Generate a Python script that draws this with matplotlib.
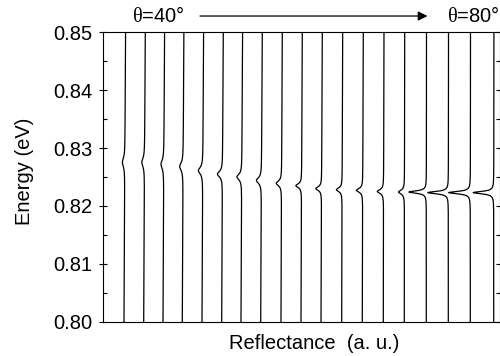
import numpy as np
import matplotlib
matplotlib.use("Agg")
from matplotlib import pyplot as plt

plt.rcParams['font.family'] = ['Liberation Sans', 'DejaVu Sans']
plt.rcParams['mathtext.fontset'] = 'custom'
plt.rcParams['mathtext.rm'] = 'Liberation Serif'

# horizontal offset of each spectrum (a. u.), low angle -> high angle
offsets = [1.083, 2.076, 3.048, 4.020, 5.013, 6.005, 6.977, 7.970, 8.992, 10.000,
           11.008, 12.050, 13.088, 14.146, 15.204, 16.312, 17.421, 18.529, 19.708]
# energy of the reflectance dip (eV)
dip_energy = [0.8275, 0.8275, 0.8272, 0.8268, 0.8261, 0.8255, 0.8250, 0.8244, 0.8239, 0.8235,
              0.8230, 0.8228, 0.8227, 0.8225, 0.8224, 0.8224, 0.8223, 0.8223, 0.8223]
# depth of the dip (a. u.)
dip_depth = [0.125, 0.14, 0.145, 0.175, 0.225, 0.255, 0.245, 0.255, 0.27, 0.29,
             0.29, 0.29, 0.317, 0.317, 0.30, 0.877, 1.038, 1.093, 1.038]
# half width of the dip (eV)
dip_width = [0.0009, 0.0009, 0.0009, 0.0008, 0.0007, 0.0006, 0.0006, 0.0006, 0.0005, 0.0004,
             0.0004, 0.0004, 0.0004, 0.0004, 0.0004, 0.00025, 0.00025, 0.00025, 0.00025]
# rise of the background from 0.80 to 0.85 eV (a. u.)
tilt = [0.08, 0.08, 0.08, 0.08, 0.08, 0.08, 0.08, 0.08, 0.065, 0.065,
        0.065, 0.05, 0.05, 0.035, 0.02, 0.01, 0.01, 0.01, 0.01]

E = np.linspace(0.80, 0.85, 8001)

fig = plt.figure(figsize=(5.0, 3.56), dpi=100)
ax = fig.add_axes([0.205, 0.0963, 0.794, 0.813])

for x0, e0, d, g, t in zip(offsets, dip_energy, dip_depth, dip_width, tilt):
    lorentz = g ** 2 / ((E - e0) ** 2 + g ** 2)
    R = x0 + t * (E - 0.80) / 0.05 - d * lorentz
    ax.plot(R, E, color='black', lw=0.9)

ax.set_xlim(0, 20)
ax.set_ylim(0.80, 0.85)
ax.set_yticks(np.arange(0.80, 0.851, 0.01))
ax.set_yticks(np.arange(0.805, 0.85, 0.01), minor=True)
ax.set_yticklabels(['%.2f' % v for v in np.arange(0.80, 0.851, 0.01)])
ax.set_xticks([])
ax.tick_params(axis='y', which='major', direction='inout', length=6, width=0.8,
               labelsize=14.5, right=True, pad=4.5)
ax.tick_params(axis='y', which='minor', direction='in', length=3, width=0.8, right=True)
for s in ax.spines.values():
    s.set_linewidth(0.8)

fig.text(0.048, 0.52, 'Energy (eV)', fontsize=14.5, rotation=90, ha='center', va='center')
fig.text(0.628, 0.036, 'Reflectance  (a. u.)', fontsize=14.5, ha='center', va='center')

fig.text(0.317, 0.955, r'$\mathrm{\theta}$=40°', fontsize=14.5, ha='center', va='center')
fig.text(0.946, 0.955, r'$\mathrm{\theta}$=80°', fontsize=14.5, ha='center', va='center')
ax.annotate('', xy=(0.855, 0.955), xytext=(0.40, 0.955), xycoords='figure fraction',
            arrowprops=dict(arrowstyle='-|>', color='black', lw=0.9,
                            mutation_scale=14, shrinkA=0, shrinkB=0))

fig.savefig('out.png', dpi=100)
